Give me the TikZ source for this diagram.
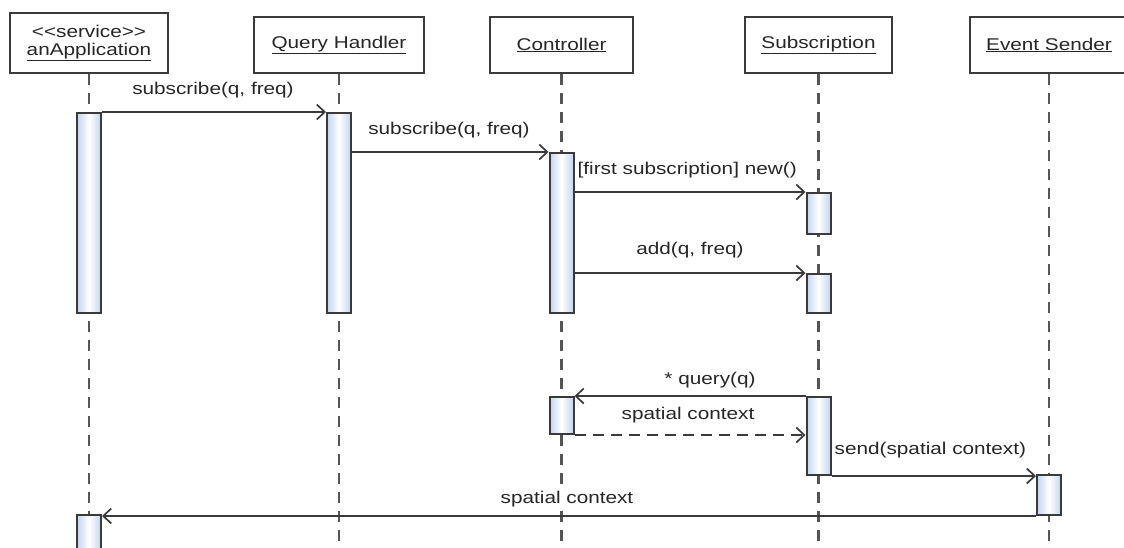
\documentclass[tikz,border=0pt]{standalone}
\usepackage{fontspec}
\setmainfont{Liberation Sans}[FakeStretch=1.22]
\usetikzlibrary{arrows.meta}
\definecolor{ln}{HTML}{3A3A3A}
\definecolor{ll}{HTML}{555555}
\definecolor{actb}{HTML}{C4D4EE}
\definecolor{tx}{HTML}{262626}
\begin{document}
\begin{tikzpicture}[x=1pt,y=-1pt,
 font=\fontsize{17}{20}\selectfont, text=tx,
 head/.style={draw=ln, line width=2pt, fill=white, inner sep=0pt, minimum height=56pt, align=center},
 life/.style={draw=ll, line width=2.4pt, dash pattern=on 11pt off 8pt},
 act/.style={draw=ln, line width=2pt, left color=actb, right color=actb, middle color=white, minimum width=24pt, inner sep=0pt, rectangle},
 msg/.style={draw=ln, line width=1.7pt, -{Straight Barb[length=8pt,width=15pt,line width=1.7pt]}},
 ret/.style={msg, dash pattern=on 11pt off 7pt},
 lbl/.style={inner sep=0.5pt, fill=white}]
\useasboundingbox (0,0) rectangle (1124,547);
\clip (0,0) rectangle (1124,547);
% heads
\node[head, minimum width=158pt, minimum height=60pt] (hA) at (89,43) {<{}<service>{}>\\[-2pt]\underline{anApplication}};
\node[head, minimum width=170pt] (hQ) at (339,45) {\underline{Query Handler}};
\node[head, minimum width=143pt] (hC) at (561.5,45) {\underline{Controller}};
\node[head, minimum width=147pt] (hS) at (818.5,45) {\underline{Subscription}};
\node[head, minimum width=158pt] (hE) at (1049,45) {\underline{Event Sender}};
% lifeline ends
\coordinate (eA) at (89,560);
\coordinate (eQ) at (339,560);
\coordinate (eC) at (561.5,560);
\coordinate (eS) at (818.5,560);
\coordinate (eE) at (1049,560);
\draw[life] (hA.south) -- (eA);
\draw[life] (hQ.south) -- (eQ);
\draw[life] (hC.south) -- (eC);
\draw[life] (hS.south) -- (eS);
\draw[life] (hE.south) -- (eE);
% activations
\node[act, minimum height=200pt] (aA1) at (89,213) {};
\node[act, minimum height=200pt] (aQ) at (339,213) {};
\node[act, minimum height=160pt] (aC) at (561.5,233) {};
\node[act, minimum height=41pt] (aS1) at (818.5,213.5) {};
\node[act, minimum height=39pt] (aS2) at (818.5,293.5) {};
\node[act, minimum height=37pt] (aC2) at (561.5,415.5) {};
\node[act, minimum height=78pt] (aS3) at (818.5,436) {};
\node[act, minimum height=40pt] (aE) at (1049,495) {};
\node[act, minimum height=60pt] (aA2) at (89,545) {};
% messages
\draw[msg] (aA1.north east) -- (aQ.north west);
\draw[msg] (aQ.east |- aC.north) -- (aC.north west);
\draw[msg] (aC.east |- aS1.north) -- (aS1.north west);
\draw[msg] (aC.east |- aS2.north) -- (aS2.north west);
\draw[msg] (aS3.north west) -- (aC2.north east);
\draw[ret] (aC2.south east) -- (aS3.west |- aC2.south);
\draw[msg] (aS3.south east) -- (aE.west |- aS3.south);
\draw[msg] (aE.south west) -- (aA2.east |- aE.south);
% labels
\node[lbl] (l1) at (213,90) {subscribe(q, freq)};
\node[lbl] (l2) at (449,130) {subscribe(q, freq)};
\node[lbl, anchor=west] (l3) at (577,170) {[first subscription] new()};
\node[lbl] (l4) at (690,250) {add(q, freq)};
\node[lbl] (l5) at (710,380) {* query(q)};
\node[lbl] (l6) at (688,415) {spatial context};
\node[lbl, anchor=west] (l7) at (834,450) {send(spatial context)};
\node[lbl] (l8) at (567,499) {spatial context};
\end{tikzpicture}
\end{document}
